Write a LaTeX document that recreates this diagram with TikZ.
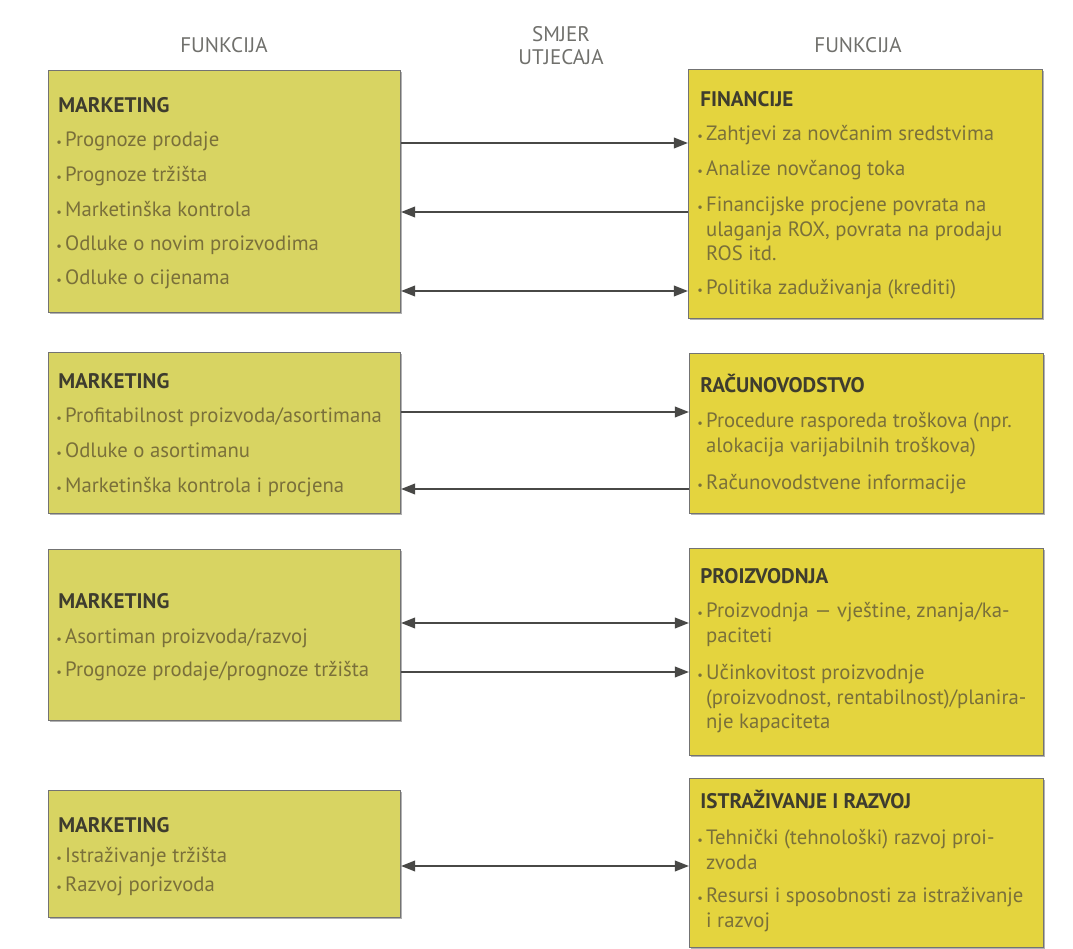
\documentclass[tikz,border=0pt]{standalone}
\usepackage{fontspec}
\setmainfont{PT Sans}
\usetikzlibrary{arrows.meta}
\usetikzlibrary{shadows}

\definecolor{mktfill}{RGB}{216,212,98}
\definecolor{funfill}{RGB}{228,212,62}
\definecolor{itemtext}{RGB}{122,112,58}
\definecolor{headtext}{RGB}{62,60,46}
\definecolor{captext}{RGB}{112,112,108}
\definecolor{flowline}{RGB}{72,72,70}

\newcommand{\bul}{\strut\makebox[5pt][l]{\fontsize{7}{7}\selectfont •}}
\newcommand{\ind}{\hspace*{5pt}}

\tikzset{
	panel/.style={
		draw=black!55,
		line width=0.6pt,
		anchor=north west,
		inner sep=0pt,
		drop shadow={shadow xshift=0.8pt,shadow yshift=-1pt,opacity=0.3,fill=black},
	},
	mkt/.style={
		panel,
		fill=mktfill,
		minimum width=7.04cm,
	},
	fun/.style={
		panel,
		fill=funfill,
		minimum width=7.08cm,
	},
	head/.style={
		anchor=base west,
		inner sep=0pt,
		font=\fontsize{12}{14}\selectfont\bfseries,
		text=headtext,
	},
	item/.style={
		anchor=north west,
		inner sep=0pt,
		align=left,
		font=\fontsize{11.8}{14}\selectfont,
		text=itemtext,
	},
	colhead/.style={
		align=center,
		font=\fontsize{12}{13}\selectfont,
		text=captext,
	},
	infl/.style={
		draw=flowline,
		line width=1.1pt,
		-{Triangle[length=8pt,width=6pt]}
	},
	mutual/.style={
		infl,
		{Triangle[length=8pt,width=6pt]}-{Triangle[length=8pt,width=6pt]}
	},
}

\begin{document}
\begin{tikzpicture}[x=0.02cm,y=-0.02cm]
		\useasboundingbox (0,0) rectangle (1073,949);

		\node[colhead] 			(fleft) at (224,45) {FUNKCIJA};
		\node[colhead] 			(smjer) at (561,46) {SMJER\\UTJECAJA};
		\node[colhead] 			(fright) at (858,45) {FUNKCIJA};

%*********

		\node[mkt, minimum height=4.84cm] 	(m1) at (48,70) {};
		\node[fun, minimum height=4.98cm] 	(f1) at (688,69) {};

		\node[head] 				(m1h) at (58,113) {MARKETING};
		\node[item] 				(m1a) at (56,129) {\bul Prognoze prodaje};
		\node[item] 				(m1b) at (56,164) {\bul Prognoze tržišta};
		\node[item] 				(m1c) at (56,199) {\bul Marketinška kontrola};
		\node[item] 				(m1d) at (56,233) {\bul Odluke o novim proizvodima};
		\node[item] 				(m1e) at (56,267) {\bul Odluke o cijenama};

		\node[head] 				(f1h) at (700,107) {FINANCIJE};
		\node[item] 				(f1a) at (697,123) {\bul Zahtjevi za novčanim sredstvima};
		\node[item] 				(f1b) at (697,158) {\bul Analize novčanog toka};
		\node[item] 				(f1c) at (697,194) {\bul Financijske procjene povrata na\\\ind ulaganja ROX, povrata na prodaju\\\ind ROS itd.};
		\node[item] 				(f1d) at (697,277) {\bul Politika zaduživanja (krediti)};

		\draw[infl] 				(m1.east |- 0,143) -- (f1.west |- 0,143);
		\draw[infl] 				(f1.west |- 0,212) -- (m1.east |- 0,212);
		\draw[mutual] 			(m1.east |- 0,291) -- (f1.west |- 0,291);

%*********

		\node[mkt, minimum height=3.22cm] 	(m2) at (48,352) {};
		\node[fun, minimum height=3.2cm] 	(r2) at (689,353) {};

		\node[head] 				(m2h) at (58,389) {MARKETING};
		\node[item] 				(m2a) at (56,405) {\bul Profitabilnost proizvoda/asortimana};
		\node[item] 				(m2b) at (56,440) {\bul Odluke o asortimanu};
		\node[item] 				(m2c) at (56,475) {\bul Marketinška kontrola i procjena};

		\node[head] 				(r2h) at (700,393) {RAČUNOVODSTVO};
		\node[item] 				(r2a) at (697,410) {\bul Procedure rasporeda troškova (npr.\\\ind alokacija varijabilnih troškova)};
		\node[item] 				(r2b) at (697,472) {\bul Računovodstvene informacije};

		\draw[infl] 				(m2.east |- 0,412) -- (r2.west |- 0,412);
		\draw[infl] 				(r2.west |- 0,489) -- (m2.east |- 0,489);

%*********

		\node[mkt, minimum height=3.42cm] 	(m3) at (48,549) {};
		\node[fun, minimum height=4.14cm] 	(p3) at (689,548) {};

		\node[head] 				(m3h) at (58,609) {MARKETING};
		\node[item] 				(m3a) at (56,626) {\bul Asortiman proizvoda/razvoj};
		\node[item] 				(m3b) at (56,659) {\bul Prognoze prodaje/prognoze tržišta};

		\node[head] 				(p3h) at (700,584) {PROIZVODNJA};
		\node[item] 				(p3a) at (697,600) {\bul Proizvodnja — vještine, znanja/ka-\\\ind paciteti};
		\node[item] 				(p3b) at (697,662) {\bul Učinkovitost proizvodnje\\\ind (proizvodnost, rentabilnost)/planira-\\\ind nje kapaciteta};

		\draw[mutual] 			(m3.east |- 0,623) -- (p3.west |- 0,623);
		\draw[infl] 				(m3.east |- 0,672) -- (p3.west |- 0,672);

%*********

		\node[mkt, minimum height=2.54cm] 	(m4) at (48,790) {};
		\node[fun, minimum height=3.38cm] 	(i4) at (689,778) {};

		\node[head] 				(m4h) at (58,832) {MARKETING};
		\node[item] 				(m4a) at (56,845) {\bul Istraživanje tržišta};
		\node[item] 				(m4b) at (56,874) {\bul Razvoj porizvoda};

		\node[head] 				(i4h) at (700,808) {ISTRAŽIVANJE I RAZVOJ};
		\node[item] 				(i4a) at (697,827) {\bul Tehnički (tehnološki) razvoj proi-\\\ind zvoda};
		\node[item] 				(i4b) at (697,885) {\bul Resursi i sposobnosti za istraživanje\\\ind i razvoj};

		\draw[mutual] 			(m4.east |- 0,866) -- (i4.west |- 0,866);

	\end{tikzpicture}
\end{document}
